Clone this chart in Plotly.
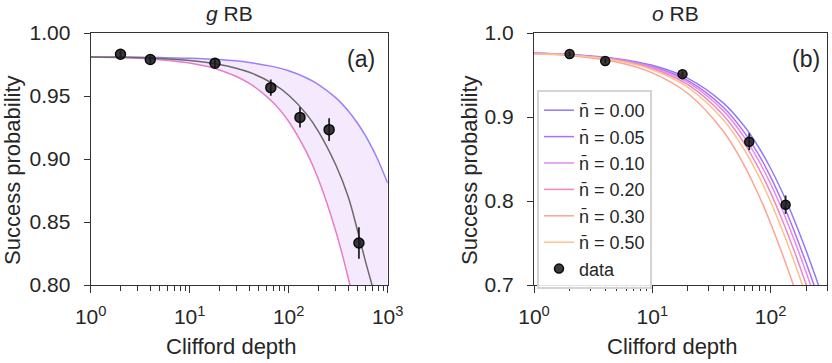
import plotly.graph_objs as go

# measured points (Clifford depth, success probability)
depth_g = [2, 4, 18, 66, 130, 256, 512]
prob_g = [0.9831, 0.979, 0.976, 0.9566, 0.933, 0.9233, 0.8333]
err_g = [0.003, 0.003, 0.004, 0.0065, 0.008, 0.009, 0.0125]

depth_o = [2, 4, 18, 66, 134]
prob_o = [0.975, 0.9667, 0.951, 0.8706, 0.7956]
err_o = [0.003, 0.003, 0.003, 0.010, 0.011]

# fitted curves
fit_x_g = [1, 2, 5, 10, 20, 40, 70, 100, 150, 200, 300, 400, 500, 600, 700, 800, 1000]
fit_g_upper = [0.981, 0.9809, 0.9805, 0.980, 0.9789, 0.9766, 0.9733, 0.970, 0.9645, 0.9591,
               0.9485, 0.9381, 0.928, 0.9181, 0.9084, 0.899, 0.8808]
fit_g_mid = [0.981, 0.9807, 0.9797, 0.9781, 0.975, 0.9688, 0.9596, 0.9506, 0.936, 0.9218,
             0.895, 0.8698, 0.842, 0.818, 0.799, 0.781, 0.7488]
fit_g_lower = [0.981, 0.9805, 0.9788, 0.9761, 0.9707, 0.9601, 0.9447, 0.9298, 0.906, 0.8837,
               0.8423, 0.8054, 0.7725, 0.7433, 0.7172, 0.6938, 0.6544]

# fitted curves for panel (b), one per mean phonon number
fit_x_o = [1, 2, 5, 10, 20, 40, 60, 80, 100, 130, 160, 200, 250, 300]
nbar_labels = ["n\u0304 = 0.00", "n\u0304 = 0.05", "n\u0304 = 0.10",
               "n\u0304 = 0.20", "n\u0304 = 0.30", "n\u0304 = 0.50"]
fit_o_000 = [0.976, 0.9744, 0.9695, 0.9615, 0.946, 0.9165, 0.8889, 0.8631, 0.839, 0.8059,
             0.776, 0.7407, 0.7028, 0.6708]
fit_o_005 = [0.976, 0.9742, 0.9689, 0.9602, 0.9433, 0.9114, 0.8817, 0.8542, 0.8287, 0.7938,
             0.7626, 0.7261, 0.6875, 0.6555]
fit_o_010 = [0.976, 0.9741, 0.9684, 0.9592, 0.9412, 0.9073, 0.876, 0.8471, 0.8205, 0.7843,
             0.7522, 0.7149, 0.676, 0.6441]
fit_o_020 = [0.976, 0.9739, 0.9678, 0.9578, 0.9384, 0.9019, 0.8686, 0.8379, 0.8099, 0.7721,
             0.7389, 0.7008, 0.6625, 0.630]
fit_o_030 = [0.975, 0.9733, 0.9655, 0.9526, 0.928, 0.8827, 0.8422, 0.806, 0.7736, 0.7313,
             0.6956, 0.6564, 0.618, 0.59]
fit_o_050 = [0.975, 0.9738, 0.9672, 0.9563, 0.9354, 0.8965, 0.861, 0.8287, 0.7993, 0.760,
             0.7259, 0.6873, 0.6483, 0.617]
fits_o = [fit_o_000, fit_o_005, fit_o_010, fit_o_020, fit_o_030, fit_o_050]
colors_o = ["#8a7dfb", "#b46ef4", "#de8cf0", "#ee86c4", "#fca394", "#fdc28a"]

xticks = [1, 10, 100, 1000]
xticktext = ["10<sup>0</sup>", "10<sup>1</sup>", "10<sup>2</sup>", "10<sup>3</sup>"]
minor_ticks = [2, 3, 4, 5, 6, 7, 8, 9, 20, 30, 40, 50, 60, 70, 80, 90, 200, 300, 400, 500, 600, 700, 800, 900]

W, H = 832, 363
FONT = "Liberation Sans, Arial, sans-serif"
INK = "#262626"


def px(x):
    return x / W


def py(y):
    return 1 - y / H


fig = go.Figure()

# panel (a): band between the two bounds, centre fit, data
fig.add_trace(go.Scatter(x=fit_x_g, y=fit_g_upper, mode="lines", line=dict(color="#9a80f7", width=1.5, shape="spline"),
                         showlegend=False, xaxis="x", yaxis="y"))
fig.add_trace(go.Scatter(x=fit_x_g, y=fit_g_lower, mode="lines", line=dict(color="#e87cc8", width=1.5, shape="spline"),
                         fill="tonexty", fillcolor="rgba(225,190,250,0.32)", showlegend=False, xaxis="x", yaxis="y"))
fig.add_trace(go.Scatter(x=fit_x_g, y=fit_g_mid, mode="lines", line=dict(color="#6a6a6a", width=1.5, shape="spline"),
                         showlegend=False, xaxis="x", yaxis="y"))
fig.add_trace(go.Scatter(x=depth_g, y=prob_g, mode="markers",
                         marker=dict(color="rgba(25,25,25,0.85)", size=10, line=dict(color="#0a0a0a", width=1.5)),
                         error_y=dict(type="data", array=err_g, color="#262626", thickness=1.8, width=0),
                         showlegend=False, xaxis="x", yaxis="y"))

# panel (b): one fit per n-bar, then data
for lab, ys, col in zip(nbar_labels, fits_o, colors_o):
    fig.add_trace(go.Scatter(x=fit_x_o, y=ys, mode="lines", name=lab,
                             line=dict(color=col, width=1.5, shape="spline"), xaxis="x2", yaxis="y2"))
fig.add_trace(go.Scatter(x=depth_o, y=prob_o, mode="markers", name="data",
                         marker=dict(color="rgba(25,25,25,0.85)", size=9, line=dict(color="#0a0a0a", width=1.5)),
                         error_y=dict(type="data", array=err_o, color="#262626", thickness=1.8, width=0),
                         xaxis="x2", yaxis="y2"))

axis_common = dict(showline=True, linecolor="#333333", linewidth=1.3, mirror=True, showgrid=False,
                   zeroline=False, ticks="outside", tickcolor="#333333", tickwidth=1.2,
                   tickfont=dict(family=FONT, size=21, color=INK))
xdom_a = [px(90.7), px(387.7)]
xdom_b = [px(534), px(827)]
ydom = [py(285), py(33)]

fig.update_layout(
    width=W, height=H,
    margin=dict(l=0, r=0, t=0, b=0, autoexpand=False),
    paper_bgcolor="white", plot_bgcolor="white",
    font=dict(family=FONT, color=INK),
    xaxis=dict(axis_common, type="log", domain=xdom_a, range=[0, 3], anchor="y",
               tickvals=xticks, ticktext=xticktext, ticklen=7, ticklabelstandoff=6,
               minor=dict(tickvals=minor_ticks, ticks="outside", ticklen=4.5, tickcolor="#333333", tickwidth=1.2)),
    yaxis=dict(axis_common, domain=ydom, range=[0.80, 1.00], anchor="x",
               tickvals=[0.80, 0.85, 0.90, 0.95, 1.00], tickformat=".2f", ticklen=6, ticklabelstandoff=9),
    xaxis2=dict(axis_common, type="log", domain=xdom_b, range=[0, 2.477], anchor="y2",
                tickvals=xticks, ticktext=xticktext, ticklen=7, ticklabelstandoff=6,
                minor=dict(tickvals=minor_ticks, ticks="outside", ticklen=4.5, tickcolor="#333333", tickwidth=1.2)),
    yaxis2=dict(axis_common, domain=ydom, range=[0.7, 1.0], anchor="x2",
                tickvals=[0.7, 0.8, 0.9, 1.0], tickformat=".1f", ticklen=6, ticklabelstandoff=9),
    legend=dict(x=px(537), y=py(90), xanchor="left", yanchor="top", traceorder="normal",
                bgcolor="rgba(255,255,255,0.85)", bordercolor="#d4d4d4", borderwidth=2,
                font=dict(family=FONT, size=18, color=INK), tracegroupgap=0),
)


# titles, axis labels and panel tags
def note(text, x, y, size, angle=0):
    fig.add_annotation(text=text, x=px(x), y=py(y), xref="paper", yref="paper",
                       showarrow=False, textangle=angle, xanchor="center", yanchor="middle",
                       font=dict(family=FONT, size=size, color=INK))


note("<i>g</i> RB", 229, 14, 21)
note("<i>o</i> RB", 675, 14, 21)
note("Clifford depth", 231, 346, 22)
note("Clifford depth", 672, 346, 22)
note("Success probability", 12, 170, 22, -90)
note("Success probability", 469, 170, 22, -90)
note("(a)", 361, 59, 23)
note("(b)", 806, 59, 23)

# the page body has a default 8px margin; drop it so the figure fills the window
fig.write_html("out.html", config={"displayModeBar": False},
               post_script="document.body.style.margin = '0px';")
